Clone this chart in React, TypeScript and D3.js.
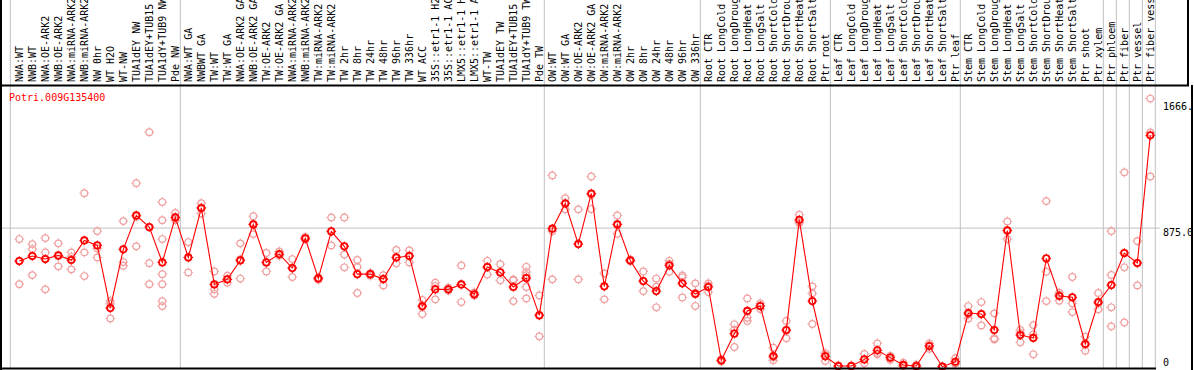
import React from "react";
import * as d3 from "d3";

const categories: string[] = [
  "NWA:WT", "NWB:WT", "NWA:OE-ARK2", "NWB:OE-ARK2", "NWA:miRNA-ARK2", "NWB:miRNA-ARK2",
  "NW 0hr", "WT H2O", "WT-NW", "TUA1dEY NW", "TUA1dEY+TUB15 NW", "TUA1dY+TUB9 NW", "Pde NW",
  "NWA:WT GA", "NWBWT GA", "TW:WT", "TW:WT GA", "NWA:OE-ARK2 GA", "NWB:OE-ARK2 GA", "TW:OE-ARK2",
  "TW:OE-ARK2 GA", "NWA:miRNA-ARK2 GA", "NWB:miRNA-ARK2 GA", "TW:miRNA-ARK2", "TW:miRNA-ARK2 GA",
  "TW 2hr", "TW 8hr", "TW 24hr", "TW 48hr", "TW 96hr", "TW 336hr", "WT ACC",
  "35S::etr1-1 H2O", "35S::etr1-1 ACC", "LMX5::etr1-1 H2O", "LMX5::etr1-1 ACC",
  "WT-TW", "TUA1dEY TW", "TUA1dEY+TUB15 TW", "TUA1dY+TUB9 TW", "Pde TW",
  "OW:WT", "OW:WT GA", "OW:OE-ARK2", "OW:OE-ARK2 GA", "OW:miRNA-ARK2", "OW:miRNA-ARK2 GA",
  "OW 2hr", "OW 8hr", "OW 24hr", "OW 48hr", "OW 96hr", "OW 336hr",
  "Root CTR", "Root LongCold", "Root LongDrought", "Root LongHeat", "Root LongSalt",
  "Root ShortCold", "Root ShortDrought", "Root ShortHeat", "Root ShortSalt", "Ptr root",
  "Leaf CTR", "Leaf LongCold", "Leaf LongDrought", "Leaf LongHeat", "Leaf LongSalt",
  "Leaf ShortCold", "Leaf ShortDrought", "Leaf ShortHeat", "Leaf ShortSalt", "Ptr leaf",
  "Stem CTR", "Stem LongCold", "Stem LongDrought", "Stem LongHeat", "Stem LongSalt",
  "Stem ShortCold", "Stem ShortDrought", "Stem ShortHeat", "Stem ShortSalt",
  "Ptr shoot", "Ptr xylem", "Ptr phloem", "Ptr fiber", "Ptr vessel", "Ptr fiber vessel",
];

const means: number[] = [
  667, 699, 680, 703, 674, 797, 766, 371, 741, 955, 881, 659, 942,
  690, 1001, 520, 552, 671, 898, 659, 711, 623, 810, 558, 854,
  760, 585, 585, 554, 690, 699, 382, 489, 489, 520, 458,
  630, 596, 504, 560, 325,
  871, 1030, 774, 1093, 508, 898, 671, 541, 478, 640, 527, 460,
  504, 42, 210, 353, 384, 69, 233, 927, 415, 67,
  6, 6, 48, 105, 59, 13, 6, 132, 2, 33,
  340, 334, 233, 860, 201, 183, 684, 447, 439, 145,
  409, 516, 718, 655, 1459,
];

const replicates: number[][] = [
  [806, 667, 522], [774, 743, 579], [812, 722, 489], [779, 697, 634], [722, 694, 615],
  [1095, 722, 573], [856, 747, 690], [415, 398, 306], [919, 661, 638], [1158, 947, 760],
  [1479, 654, 522], [1039, 925, 806, 585, 522, 415, 384], [971, 942, 925],
  [787, 690, 596], [1032, 1004, 967], [602, 489, 461], [575, 552, 531], [779, 677, 557],
  [950, 900, 837], [718, 658, 602], [728, 706, 700], [680, 623, 567], [820, 805, 805],
  [565, 560, 550], [942, 854, 766],
  [942, 709, 628], [674, 630, 466], [590, 575, 590], [579, 554, 514], [737, 690, 653],
  [734, 703, 659], [422, 390, 334], [531, 510, 426], [500, 485, 482], [640, 520, 409],
  [470, 450, 455], [669, 630, 583], [648, 596, 546], [552, 545, 415],
  [631, 598, 579, 560, 504, 432], [451, 330, 193],
  [1207, 855, 552], [1064, 1033, 993], [993, 777, 552], [1200, 1085, 995], [590, 508, 426],
  [955, 900, 839], [677, 668, 668], [602, 541, 478], [557, 506, 376], [669, 650, 600],
  [577, 565, 438], [527, 468, 384],
  [527, 513, 472], [50, 40, 35], [269, 235, 126], [432, 310, 290], [401, 384, 365],
  [122, 60, 42], [290, 228, 181], [959, 915, 907], [508, 464, 271], [88, 75, 38],
  [10, 5, 3], [10, 5, 3], [82, 48, 23], [149, 88, 80], [70, 62, 45], [27, 8, 5],
  [15, 3, 0], [149, 132, 115], [4, 2, 0], [55, 23, 20],
  [384, 330, 306], [409, 330, 262], [338, 181, 174], [917, 858, 806], [233, 215, 156],
  [264, 205, 80], [1045, 600, 415], [468, 455, 418], [567, 401, 346], [191, 141, 103],
  [466, 400, 363], [856, 580, 376, 256], [1226, 628, 281], [793, 655, 514], [1691, 1477, 1200],
];

// indices of the last category in each group
const groupEnds: number[] = [12, 40, 52, 62, 72, 83, 84, 85, 86, 87];
const yTicks: number[] = [0, 875.0, 1666.7];
const yTickLabels: string[] = ["0", "875.0", "1666.7"];
const geneName = "Potri.009G135400";

const W = 1194;
const H = 370;
const FONT = "'DejaVu Sans Mono', 'Liberation Mono', monospace";

function Marker({ cx, cy, r, color, sw }: { cx: number; cy: number; r: number; color: string; sw: number }) {
  const n = 1.6;
  return (
    <g stroke={color} fill="none">
      <circle cx={cx} cy={cy} r={r} strokeWidth={sw} />
      <path
        d={`M${cx},${cy - r - n}V${cy - r}M${cx},${cy + r}V${cy + r + n}M${cx - r - n},${cy}H${cx - r}M${cx + r},${cy}H${cx + r + n}`}
        strokeWidth={1}
      />
    </g>
  );
}

export default function App() {
  const x = d3.scaleLinear().domain([0, categories.length - 1]).range([19.3, 1150.3]);
  const y = d3.scaleLinear().domain([0, 1666.7]).range([367, 102.4]);
  const line = d3
    .line<number>()
    .x((_, i) => x(i))
    .y((d) => y(d));

  const sepXs = [x(0) - 9, ...groupEnds.map((i) => x(i) + 5)];

  return (
    <svg
      width={W}
      height={H}
      style={{ position: "absolute", left: 0, top: 0, background: "#fff" }}
      fontFamily={FONT}
      fontSize={10}
    >
      <defs>
        <clipPath id="plotclip">
          <rect x={0} y={86} width={1191} height={284} />
        </clipPath>
      </defs>
      <rect x={0} y={0} width={W} height={H} fill="#fff" />
      {/* grid horizontal line at mid tick */}
      <line x1={0} x2={1160} y1={y(875)} y2={y(875)} stroke="#c0c0c0" strokeWidth={1} />
      {/* group separators */}
      {sepXs.map((sx, i) => (
        <line key={"s" + i} x1={sx} x2={sx} y1={0} y2={369} stroke="#c0c0c0" strokeWidth={1} />
      ))}

      {/* category labels */}
      {categories.map((c, i) => (
        <text
          key={"c" + i}
          transform={`translate(${x(i) + 3.5},82) rotate(-90)`}
          fill="#000"
        >
          {c}
        </text>
      ))}

      {/* title */}
      <text x={9} y={100.5} fill="#ff0000">
        {geneName}
      </text>

      {/* y tick labels */}
      <g clipPath="url(#plotclip)">
        {yTicks.map((t, i) => (
          <text
            key={"t" + i}
            x={1163}
            y={i === 0 ? y(t) - 1.5 : y(t) + 8}
            fill="#000"
          >
            {yTickLabels[i]}
          </text>
        ))}
      </g>

      {/* replicate points */}
      {replicates.map((reps, i) =>
        reps.map((v, j) => (
          <Marker key={`r${i}-${j}`} cx={x(i)} cy={y(v)} r={3.3} color="#f0a0a0" sw={1.2} />
        ))
      )}

      {/* mean line */}
      <path d={line(means) || ""} fill="none" stroke="#ff0000" strokeWidth={1.1} />

      {/* mean points */}
      {means.map((v, i) => (
        <Marker key={"m" + i} cx={x(i)} cy={y(v)} r={3.2} color="#ff0000" sw={1.8} />
      ))}

      {/* frame */}
      <line x1={1} x2={1} y1={0} y2={370} stroke="#000" strokeWidth={2} />
      <line x1={0} x2={1189} y1={85.5} y2={85.5} stroke="#000" strokeWidth={2} />
      <line x1={1188} x2={1188} y1={0} y2={86} stroke="#000" strokeWidth={2} />
      <line x1={1192} x2={1192} y1={85} y2={370} stroke="#000" strokeWidth={2} />
      <line x1={0} x2={1156} y1={368.5} y2={368.5} stroke="#000" strokeWidth={2} />
    </svg>
  );
}
